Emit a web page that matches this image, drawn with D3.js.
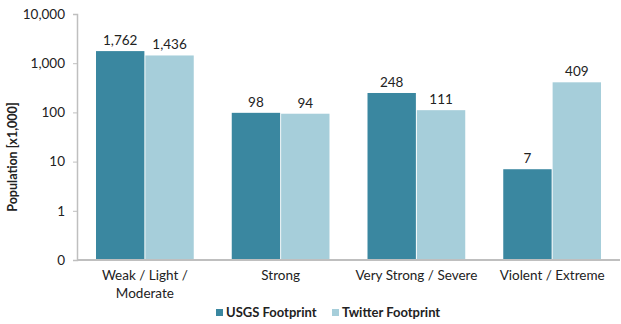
<!DOCTYPE html>
<html>
<head>
<meta charset="utf-8">
<script src="https://cdn.jsdelivr.net/npm/d3@7"></script>
<style>
  html, body { margin: 0; padding: 0; background: #fff; }
  svg { display: block; }
  text { font-family: Lato, "Open Sans", sans-serif; fill: #222; }
</style>
</head>
<body>
<svg id="chart" width="621" height="324"></svg>
<script>
// Population exposed per intensity class (thousands)
const categories = [["Weak / Light /", "Moderate"], ["Strong"], ["Very Strong / Severe"], ["Violent / Extreme"]];
const seriesNames = ["USGS Footprint", "Twitter Footprint"];
const usgsValues = [1762, 98, 248, 7];
const twitterValues = [1436, 94, 111, 409];
const tickValues = [0.1, 1, 10, 100, 1000, 10000];
const tickLabels = ["0", "1", "10", "100", "1,000", "10,000"];
const colors = ["#3a87a0", "#a6ceda"];

const svg = d3.select("#chart");
const margin = { left: 77, right: 1, top: 14, bottom: 64 };
const W = 621, H = 324;

const x = d3.scaleBand()
  .domain(d3.range(categories.length))
  .range([margin.left, W - margin.right])
  .paddingInner(0.28)
  .paddingOuter(0.14);

const xs = d3.scaleBand()
  .domain(d3.range(seriesNames.length))
  .range([0, x.bandwidth()])
  .paddingInner(0.02);

const y = d3.scaleLog()
  .domain([0.1, 10000])
  .range([H - margin.bottom, margin.top]);

const data = categories.map((c, i) => [usgsValues[i], twitterValues[i]]);
const fmt = d3.format(",");

// Bars
const groups = svg.append("g").selectAll("g")
  .data(data).join("g")
  .attr("transform", (d, i) => `translate(${x(i)},0)`);

groups.selectAll("rect")
  .data(d => d).join("rect")
  .attr("x", (d, j) => xs(j))
  .attr("width", xs.bandwidth())
  .attr("y", d => y(d))
  .attr("height", d => y(0.1) - y(d))
  .attr("fill", (d, j) => colors[j]);

// Value labels
groups.selectAll("text.val")
  .data(d => d).join("text")
  .attr("class", "val")
  .attr("x", (d, j) => xs(j) + xs.bandwidth() / 2)
  .attr("y", d => y(d) - 6)
  .attr("text-anchor", "middle")
  .attr("font-size", 13.5)
  .text(d => fmt(d));

// Y axis
const yAxis = d3.axisLeft(y)
  .tickValues(tickValues)
  .tickFormat((d, i) => tickLabels[i])
  .tickSize(4)
  .tickPadding(8);

const gy = svg.append("g")
  .attr("transform", `translate(${margin.left},0)`)
  .call(yAxis);
gy.select(".domain").attr("stroke", "#bfbfbf").attr("stroke-width", 1.5);
gy.selectAll(".tick line").attr("stroke", "#bfbfbf");
gy.selectAll(".tick text")
  .attr("font-size", 13.5)
  .attr("font-family", "Lato, 'Open Sans', sans-serif")
  .attr("fill", "#222");

// X axis baseline
svg.append("line")
  .attr("x1", margin.left).attr("x2", W - 1)
  .attr("y1", y(0.1)).attr("y2", y(0.1))
  .attr("stroke", "#bfbfbf").attr("stroke-width", 2);

// Category labels
const cat = svg.append("g").selectAll("text")
  .data(categories).join("text")
  .attr("x", (d, i) => x(i) + x.bandwidth() / 2)
  .attr("y", 280)
  .attr("text-anchor", "middle")
  .attr("font-size", 13.5);
cat.selectAll("tspan")
  .data(d => d).join("tspan")
  .attr("x", function() { return this.parentNode.getAttribute("x"); })
  .attr("dy", (d, k) => k === 0 ? 0 : 18)
  .text(d => d);

// Y axis title
svg.append("text")
  .attr("transform", `translate(17,${(y(0.1) + y(10000)) / 2 + 20}) rotate(-90)`)
  .attr("text-anchor", "middle")
  .attr("font-size", 12.5)
  .attr("font-weight", "bold")
  .text("Population  [x1,000]");

// Legend
const legendX = [216, 332];
const legend = svg.append("g").selectAll("g")
  .data(seriesNames).join("g")
  .attr("transform", (d, i) => `translate(${legendX[i]},309)`);
legend.append("rect")
  .attr("width", 7).attr("height", 7)
  .attr("fill", (d, i) => colors[i]);
legend.append("text")
  .attr("x", 10).attr("y", 8)
  .attr("font-size", 13)
  .attr("font-weight", "bold")
  .text(d => d);
</script>
</body>
</html>
